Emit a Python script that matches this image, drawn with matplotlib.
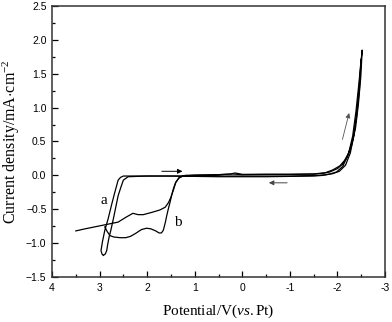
import numpy as np
import matplotlib
matplotlib.use("Agg")
import matplotlib.pyplot as plt
from matplotlib.ticker import MultipleLocator

plt.rcParams['mathtext.fontset'] = 'custom'
plt.rcParams['mathtext.rm'] = 'Liberation Serif'
plt.rcParams['mathtext.it'] = 'Liberation Serif:italic'

# curve a: forward scan from 3.5 V, then return
a_fwd_x = [3.50, 3.31, 2.96, 2.82, 2.61, 2.45, 2.30, 2.19, 2.08, 1.87, 1.73, 1.62, 1.55, 1.50,
           1.45, 1.40, 1.33, 1.20, 1.00, 0.5, 0.2, 0.0, -0.5, -1.0, -1.5, -1.7, -1.84, -2.0,
           -2.1, -2.2, -2.3, -2.38, -2.44, -2.49, -2.52]
a_fwd_y = [-0.82, -0.79, -0.74, -0.72, -0.69, -0.62, -0.56, -0.58, -0.58, -0.54, -0.51, -0.47,
           -0.40, -0.32, -0.22, -0.11, -0.03, 0.0, 0.005, 0.01, 0.02, 0.01, 0.015, 0.015, 0.02,
           0.03, 0.05, 0.10, 0.16, 0.27, 0.45, 0.70, 1.05, 1.45, 1.85]
a_ret_x = [-2.52, -2.49, -2.45, -2.39, -2.32, -2.23, -2.11, -1.98, -1.84, -1.7, -1.5, -1.0, -0.5,
           0.0, 0.5, 1.0, 1.5, 2.0, 2.40, 2.50, 2.55, 2.61, 2.66, 2.71, 2.76, 2.80, 2.83, 2.85,
           2.88, 2.92]
a_ret_y = [1.85, 1.65, 1.35, 0.95, 0.58, 0.31, 0.13, 0.05, 0.02, 0.0, -0.01, -0.015, -0.02,
           -0.02, -0.02, -0.015, -0.01, -0.01, -0.02, -0.07, -0.17, -0.30, -0.47, -0.64, -0.80,
           -0.91, -1.02, -1.11, -1.16, -1.18]

# curve b: starts on lower branch, then return
b_fwd_x = [2.89, 2.84, 2.78, 2.70, 2.57, 2.45, 2.35, 2.25, 2.12, 2.01, 1.92, 1.82, 1.75, 1.70,
           1.66, 1.62, 1.59, 1.55, 1.52, 1.48, 1.45, 1.40, 1.33, 1.25, 1.0, 0.5, 0.25, 0.15, 0.0,
           -0.5, -1.0, -1.5, -1.75, -1.9, -2.05, -2.15, -2.25, -2.33, -2.40, -2.46, -2.50]
b_fwd_y = [-0.76, -0.83, -0.89, -0.91, -0.92, -0.92, -0.90, -0.86, -0.80, -0.78, -0.79, -0.82,
           -0.85, -0.85, -0.81, -0.70, -0.60, -0.48, -0.40, -0.28, -0.20, -0.10, -0.04, -0.01,
           0.0, 0.01, 0.02, 0.035, 0.015, 0.015, 0.015, 0.02, 0.04, 0.08, 0.14, 0.22, 0.35,
           0.55, 0.85, 1.25, 1.72]
b_ret_x = [-2.50, -2.46, -2.41, -2.35, -2.27, -2.17, -2.04, -1.90, -1.76, -1.6, -1.0, 0.0, 1.0,
           2.0, 2.40, 2.50, 2.56, 2.61, 2.68, 2.75, 2.82, 2.89, 2.94, 2.97, 2.95, 2.92]
b_ret_y = [1.72, 1.35, 0.95, 0.60, 0.33, 0.15, 0.06, 0.025, 0.01, 0.0, -0.01, -0.01, -0.01,
           -0.01, -0.01, -0.01, -0.03, -0.07, -0.25, -0.44, -0.64, -0.81, -0.98, -1.11, -1.16,
           -1.18]

fig = plt.figure(figsize=(3.92, 3.22), dpi=100)
ax = fig.add_axes([0.1327, 0.1398, 0.8495, 0.8416])

ax.plot(a_fwd_x + a_ret_x, a_fwd_y + a_ret_y, color="black", lw=0.9)
ax.plot(b_fwd_x + b_ret_x, b_fwd_y + b_ret_y, color="black", lw=0.9)

# scan direction arrows
ax.annotate("", xy=(1.20, 0.06), xytext=(1.75, 0.06),
            arrowprops=dict(arrowstyle="-|>", color="black", lw=0.7, mutation_scale=7))
ax.annotate("", xy=(-0.50, -0.11), xytext=(-1.00, -0.11),
            arrowprops=dict(arrowstyle="-|>", color="#444444", lw=0.7, mutation_scale=7))
ax.annotate("", xy=(-2.26, 0.96), xytext=(-2.09, 0.49),
            arrowprops=dict(arrowstyle="-|>", color="#555555", lw=0.6, mutation_scale=7))

ax.text(2.92, -0.37, "a", fontsize=11, family="Liberation Serif", ha="center", va="center")
ax.text(1.35, -0.69, "b", fontsize=11, family="Liberation Serif", ha="center", va="center")

ax.set_xlim(4, -3)
ax.set_ylim(-1.5, 2.5)
ax.xaxis.set_major_locator(MultipleLocator(1))
ax.xaxis.set_minor_locator(MultipleLocator(0.5))
ax.yaxis.set_major_locator(MultipleLocator(0.5))
ax.yaxis.set_minor_locator(MultipleLocator(0.25))
ax.set_xticks(np.arange(-3, 5, 1))
ax.set_xticklabels(["-3", "-2", "-1", "0", "1", "2", "3", "4"])
ax.tick_params(which="both", direction="in", top=False, right=False, width=0.9,
               labelsize=7.5, pad=4)
ax.tick_params(which="major", length=4.5)
ax.tick_params(which="minor", length=2.5)
for lab in ax.get_xticklabels() + ax.get_yticklabels():
    lab.set_family("Liberation Sans")
for s in ax.spines.values():
    s.set_linewidth(1.1)
    s.set_color("#333333")

ax.set_xlabel(r"Potential/V($\it{vs.}$Pt)", fontsize=11, family="Liberation Serif", labelpad=7)
ax.set_ylabel(r"Current density/mA$\cdot$cm$^{-2}$", fontsize=11.5, family="Liberation Serif",
              labelpad=3)

fig.savefig("out.png", dpi=100)
